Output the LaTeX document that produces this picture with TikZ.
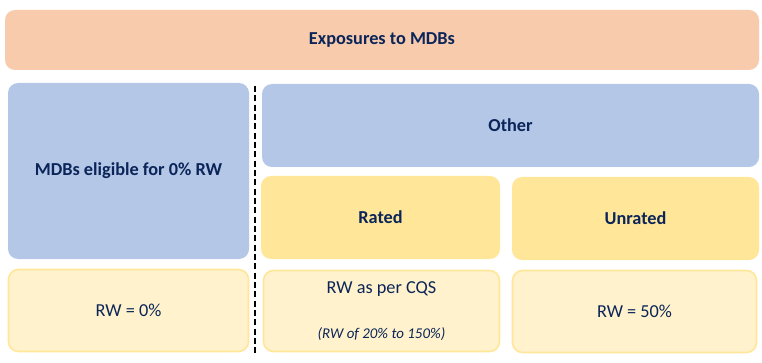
\documentclass[tikz,border=0pt]{standalone}
\usepackage{fontspec}
\setmainfont{Carlito}
\usepackage{xcolor}

\definecolor{navy}{HTML}{0B2559}
\definecolor{peach}{HTML}{F8CBAD}
\definecolor{paleblue}{HTML}{B4C7E7}
\definecolor{gold}{HTML}{FFE699}
\definecolor{cream}{HTML}{FFF2CC}

\begin{document}
\begin{tikzpicture}[x=0.75pt, y=-0.75pt,
    box/.style={rectangle, rounded corners=7.5pt, text centered, text=navy, font=\fontsize{13.7}{16}\selectfont, inner sep=0pt},
    head/.style={box, font=\fontsize{13.7}{16}\selectfont\bfseries},
    result/.style={box, fill=cream, draw=gold, line width=1.2pt}]

    \useasboundingbox (0,0) rectangle (762,363);

    % top level
    \node (mdbs) [head, fill=peach, minimum width=754*0.75pt, minimum height=60*0.75pt] at (382,40) {Exposures to MDBs};

    % categories
    \node (eligible) [head, fill=paleblue, minimum width=241*0.75pt, minimum height=176*0.75pt] at (128.5,171) {MDBs eligible for 0\% RW};
    \node (other) [head, fill=paleblue, minimum width=497*0.75pt, minimum height=83*0.75pt] at (510.5,125.5) {Other};
    \node (rated) [head, fill=gold, minimum width=239*0.75pt, minimum height=83*0.75pt] at (380.5,217.5) {Rated};
    \node (unrated) [head, fill=gold, minimum width=247*0.75pt, minimum height=83*0.75pt] at (635.5,218.5) {Unrated};

    % risk weights
    \node (rwzero) [result, minimum width=240*0.75pt, minimum height=82*0.75pt] at (128.5,310.5) {RW = 0\%};
    \node (rwcqs) [result, minimum width=236*0.75pt, minimum height=81*0.75pt, align=center] at (381.5,311)
        {RW as per CQS\\[17.5pt]{\fontsize{11.2}{13}\selectfont\itshape (RW of 20\% to 150\%)}};
    \node (rwfifty) [result, minimum width=244*0.75pt, minimum height=82*0.75pt] at (634.5,311.5) {RW = 50\%};

    % separator
    \coordinate (septop) at (255,86);
    \coordinate (sepbot) at (255,355);
    \draw[dashed, dash pattern=on 4.5pt off 2.5pt, line width=0.8pt] (septop) -- (sepbot);

\end{tikzpicture}
\end{document}
